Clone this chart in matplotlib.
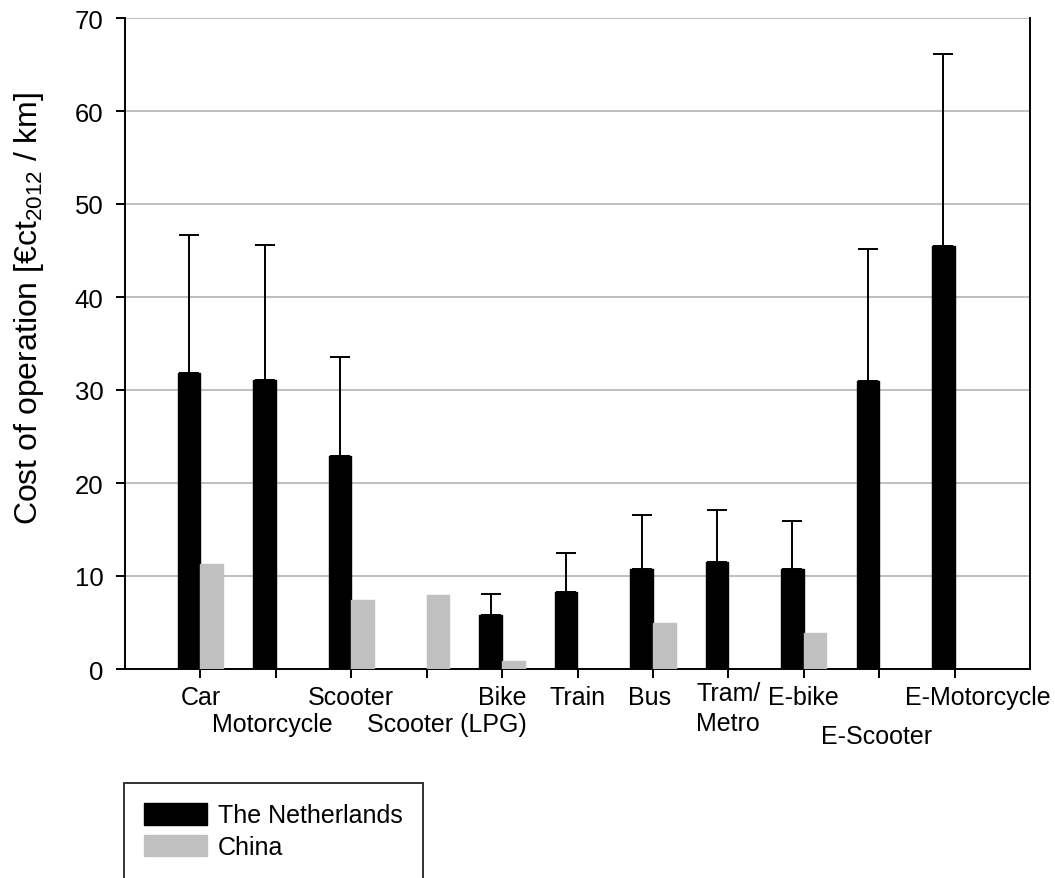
import numpy as np
import matplotlib
matplotlib.use("Agg")
import matplotlib.pyplot as plt
from matplotlib.patches import Patch

plt.rcParams['font.family'] = ['Liberation Sans', 'DejaVu Sans']
plt.rcParams['mathtext.fontset'] = 'custom'
plt.rcParams['mathtext.rm'] = 'Liberation Sans'
plt.rcParams['mathtext.it'] = 'Liberation Sans:italic'
plt.rcParams['mathtext.bf'] = 'Liberation Sans:bold'

categories = ['Car', 'Motorcycle', 'Scooter', 'Scooter (LPG)', 'Bike', 'Train',
              'Bus', 'Tram/\nMetro', 'E-bike', 'E-Scooter', 'E-Motorcycle']
netherlands = [31.8, 31.1, 22.9, np.nan, 5.8, 8.3, 10.7, 11.5, 10.7, 31.0, 45.5]
netherlands_high = [46.7, 45.6, 33.5, np.nan, 8.1, 12.5, 16.6, 17.1, 15.9, 45.2, 66.1]
china = [11.3, np.nan, 7.4, 8.0, 0.9, np.nan, 5.0, np.nan, 3.9, np.nan, np.nan]
yticks = [0, 10, 20, 30, 40, 50, 60, 70]

# label placement (pixel offsets from the tick at axis bottom)
label_dx = [0, -4, 0, 20, 0, 0, -3, 0, 0, -3, 23]
label_dy = [-28, -55, -28, -55, -28, -28, -28, -39, -28, -67, -28]

W, H = 1055, 879
fig = plt.figure(figsize=(W/100, H/100), dpi=100)
ax = fig.add_axes([125/W, 1-670/H, (1030-125)/W, (670-19)/H])

x = np.arange(1, len(categories)+1)
bw = 0.3
nl = np.array(netherlands)
nlh = np.array(netherlands_high)
cn = np.array(china)

ax.bar(x - bw/2, nl, width=bw, color='black', edgecolor='black',
       linewidth=1.0, joinstyle='round', zorder=3)
ax.bar(x + bw/2, cn, width=bw, color='#c0c0c0', edgecolor='#c0c0c0',
       linewidth=1.0, joinstyle='round', zorder=3)
err = np.vstack([np.zeros_like(nl), nlh - nl])
ax.errorbar(x - bw/2, nl, yerr=err, fmt='none', ecolor='black',
            elinewidth=1.4, capsize=7, capthick=1.4, zorder=4)

ax.set_xlim(0, 12)
ax.set_ylim(0, 70)
ax.set_yticks(yticks)
ax.set_xticks(x)
ax.set_xticklabels([''] * len(categories))
ax.yaxis.grid(True, color='#bfbfbf', linewidth=1.4, zorder=0)
ax.set_axisbelow(True)
ax.spines['top'].set_visible(False)
for s in ['left', 'bottom', 'right']:
    ax.spines[s].set_linewidth(1.4)
ax.tick_params(axis='both', direction='out', length=6.5, width=1.4, labelsize=18.5)
ax.tick_params(axis='y', pad=9)

for xi, lab, dx, dy in zip(x, categories, label_dx, label_dy):
    ax.annotate(lab, xy=(xi, 0), xycoords=('data', 'axes fraction'),
                xytext=(dx, dy), textcoords='offset pixels',
                ha='center', va='center', multialignment='left',
                fontsize=18, linespacing=1.35, annotation_clip=False)

fig.text(29/W, 1-308/H, 'Cost of operation [€ct$_{2012}$ / km]', rotation=90,
         ha='center', va='center', fontsize=23)

handles = [Patch(facecolor='black', edgecolor='black', label='The Netherlands'),
           Patch(facecolor='#c0c0c0', edgecolor='#c0c0c0', label='China')]
leg = fig.legend(handles=handles, loc='upper left',
                 bbox_to_anchor=(124/W, 1-784/H), fontsize=18,
                 frameon=True, fancybox=False, edgecolor='black',
                 handlelength=2.5, handleheight=0.95, borderpad=0.8,
                 labelspacing=0.3, handletextpad=0.45, borderaxespad=0)
leg.get_frame().set_linewidth(1.4)

fig.savefig('out.png', dpi=100)
